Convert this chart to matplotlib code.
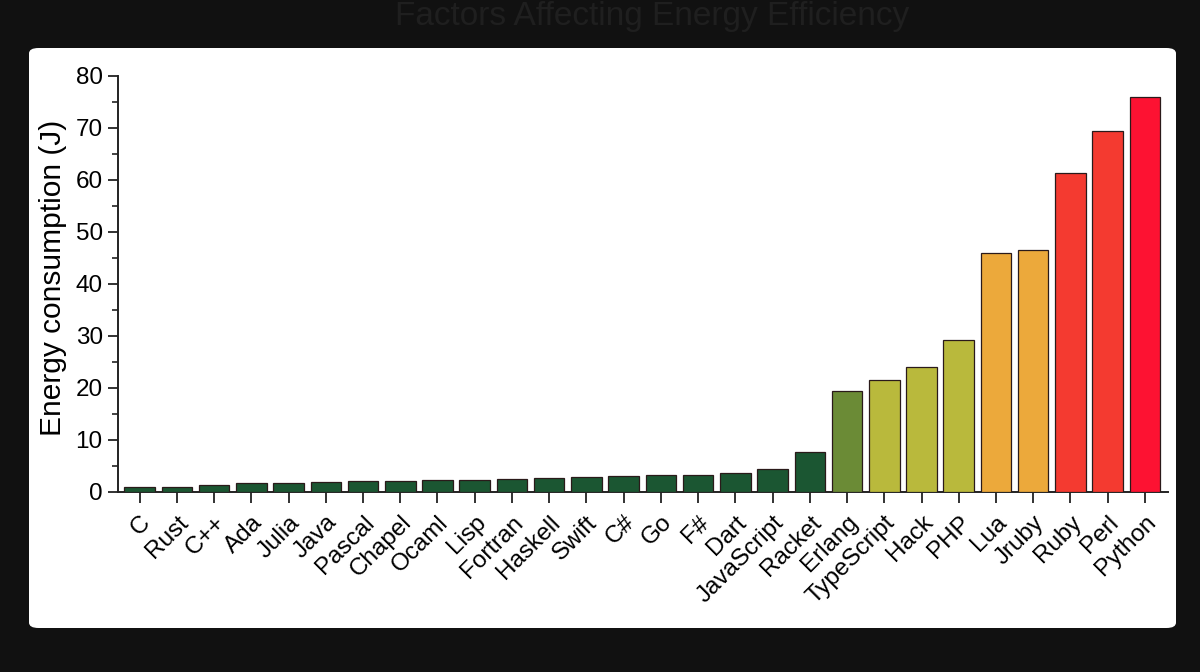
import matplotlib
matplotlib.use("Agg")
import matplotlib.pyplot as plt
from matplotlib.patches import FancyBboxPatch
from matplotlib.ticker import MultipleLocator

plt.rcParams['font.family'] = ['Liberation Sans', 'DejaVu Sans']

languages = ["C", "Rust", "C++", "Ada", "Julia", "Java", "Pascal", "Chapel", "Ocaml",
             "Lisp", "Fortran", "Haskell", "Swift", "C#", "Go", "F#", "Dart",
             "JavaScript", "Racket", "Erlang", "TypeScript", "Hack", "PHP", "Lua",
             "Jruby", "Ruby", "Perl", "Python"]
energy = [1.00, 1.03, 1.34, 1.70, 1.75, 1.98, 2.14, 2.18, 2.40,
          2.40, 2.52, 2.75, 2.79, 3.10, 3.20, 3.20, 3.75,
          4.40, 7.70, 19.40, 21.50, 24.02, 29.30, 45.98,
          46.54, 61.30, 69.40, 75.88]
bar_colors = (["#1b5632"] * 19 + ["#6b8b36"] + ["#b9b93c"] * 3 +
              ["#eca93b"] * 2 + ["#f43a30"] * 2 + ["#fd1232"])
y_label = "Energy consumption (J)"
bg_title = "Factors Affecting Energy Efficiency"

fig = plt.figure(figsize=(12, 6.72), dpi=100)
fig.patch.set_facecolor("#111111")

W, H = 1200, 672
# faint background title from the screenshot
fig.text(652 / W, 1 - 1 / H, bg_title, ha="center", va="top",
         fontsize=24, color="#1f1f1f")

# white card
card = FancyBboxPatch((29 / W, 1 - 628 / H), (1176 - 29) / W, (628 - 48) / H,
                      boxstyle="round,pad=0,rounding_size=0.008",
                      transform=fig.transFigure, facecolor="white",
                      edgecolor="none", zorder=-5)
fig.patches.append(card)

ax = fig.add_axes([118 / W, 1 - 492 / H, (1168 - 118) / W, (492 - 76) / H])
ax.set_zorder(2)
ax.set_facecolor("white")
x = list(range(len(languages)))
ax.bar(x, energy, width=0.82, color=bar_colors, edgecolor="#2a1a1a",
       linewidth=0.9, zorder=3)

ax.set_xlim(-0.58, len(languages) - 1 + 0.62)
ax.set_ylim(0, 80)
ax.yaxis.set_major_locator(MultipleLocator(10))
ax.yaxis.set_minor_locator(MultipleLocator(5))

for s in ["top", "right"]:
    ax.spines[s].set_visible(False)
for s in ["left", "bottom"]:
    ax.spines[s].set_linewidth(1.4)
    ax.spines[s].set_color("#222222")

ax.tick_params(axis="y", which="major", direction="out", length=7, width=1.3,
               labelsize=17.5, pad=4, colors="#222222", labelcolor="black")
ax.tick_params(axis="y", which="minor", direction="out", length=4, width=1.2,
               colors="#222222")
ax.tick_params(axis="x", which="major", direction="out", length=8, width=1.3,
               labelsize=17.5, pad=6, colors="#222222", labelcolor="black")

ax.set_xticks(x)
ax.set_xticklabels(languages, rotation=45, ha="right", rotation_mode="anchor")

ax.set_ylabel(y_label, fontsize=21.5, labelpad=6)
ax.yaxis.label.set_y(0.515)

fig.savefig("out.png", dpi=100, facecolor=fig.get_facecolor())
